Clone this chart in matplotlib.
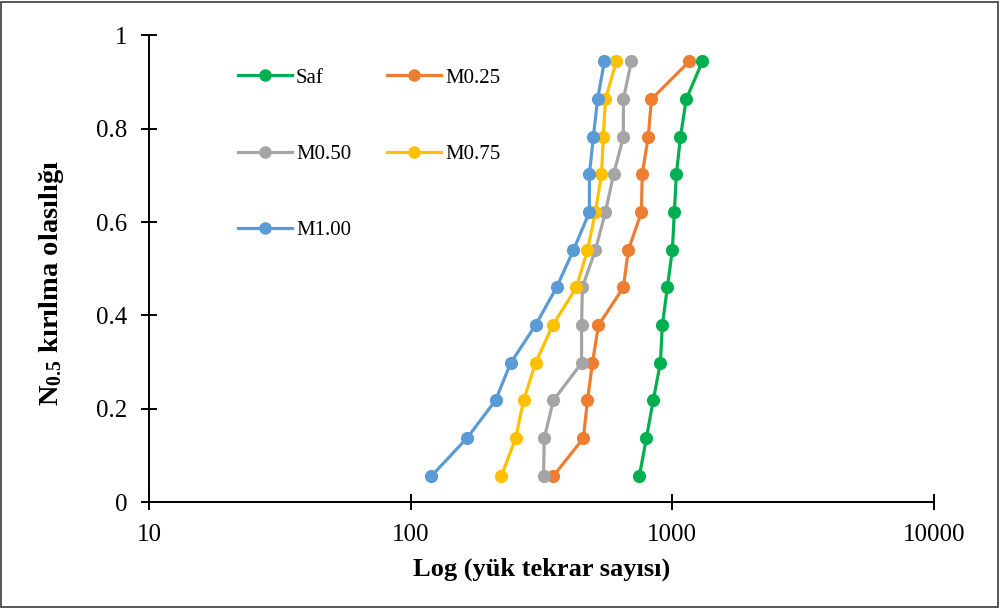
import matplotlib
matplotlib.use("Agg")
import matplotlib.pyplot as plt
from matplotlib.patches import Rectangle

plt.rcParams['font.family'] = ['Liberation Serif', 'DejaVu Serif']
plt.rcParams['mathtext.fontset'] = 'custom'
plt.rcParams['mathtext.rm'] = 'Liberation Serif'
plt.rcParams['mathtext.bf'] = 'Liberation Serif:bold'

# Failure probability (median ranks) shared by all series
probability = [0.056, 0.137, 0.218, 0.298, 0.379, 0.460,
               0.540, 0.621, 0.702, 0.782, 0.863, 0.944]

# Load repetition counts per mixture
saf = [748, 796, 845, 900, 916, 957, 1000, 1018, 1036, 1074, 1130, 1303]
m025 = [351, 457, 474, 495, 522, 650, 679, 762, 767, 809, 832, 1161]
m050 = [322, 324, 351, 450, 450, 453, 508, 555, 596, 650, 650, 697]
m075 = [222, 252, 270, 300, 349, 430, 474, 508, 536, 545, 555, 611]
m100 = [120, 164, 211, 241, 300, 361, 419, 482, 482, 499, 518, 550]

series_names = ["Saf", "M0.25", "M0.50", "M0.75", "M1.00"]
series_values = [saf, m025, m050, m075, m100]
colors = ["#00B050", "#ED7D31", "#A5A5A5", "#FFC000", "#5B9BD5"]

x_ticks = [10, 100, 1000, 10000]
x_tick_labels = ["10", "100", "1000", "10000"]
y_ticks = [0, 0.2, 0.4, 0.6, 0.8, 1]
y_tick_labels = ["0", "0.2", "0.4", "0.6", "0.8", "1"]

fig = plt.figure(figsize=(10, 6.08), dpi=100)
ax = fig.add_axes([0.149, 0.174, 0.785, 0.768])

handles = []
for name, vals, c in zip(series_names, series_values, colors):
    h, = ax.plot(vals, probability, color=c, lw=2.3, marker='o',
                 markersize=9.5, markeredgewidth=0, label=name)
    handles.append(h)

ax.set_xscale('log')
ax.set_xlim(10, 10000)
ax.set_ylim(0, 1)
ax.set_xticks(x_ticks)
ax.set_xticklabels(x_tick_labels)
ax.minorticks_off()
ax.set_yticks(y_ticks)
ax.set_yticklabels(y_tick_labels)

for s in ['top', 'right']:
    ax.spines[s].set_visible(False)
for s in ['left', 'bottom']:
    ax.spines[s].set_linewidth(1.4)
    ax.spines[s].set_color('black')

ax.tick_params(axis='both', direction='inout', length=11.5, width=1.4,
               labelsize=18, colors='black')
ax.tick_params(axis='y', pad=10)
ax.tick_params(axis='x', pad=10)

ax.set_xlabel("Log (yük tekrar sayısı)", fontsize=19, fontweight='bold')
ax.xaxis.set_label_coords(0.5, -0.118)
ax.set_ylabel(r"$\mathbf{N_{0.5}}$ kırılma olasılığı", fontsize=20.5,
              fontweight='bold')
ax.yaxis.set_label_coords(-0.106, 0.47)

order = [0, 2, 4, 1, 3]
leg = ax.legend([handles[i] for i in order], [series_names[i] for i in order],
                ncol=2, loc='upper left', bbox_to_anchor=(0.1024, 0.9475),
                frameon=False, fontsize=15, handlelength=2.6,
                labelspacing=2.72, columnspacing=1.7, handletextpad=0.2,
                borderaxespad=0)
for h in leg.legend_handles:
    h.set_markersize(9)

# outer chart-area border
fig.patches.append(Rectangle((0.001, 0.0015), 0.997, 0.996,
                             transform=fig.transFigure, fill=False,
                             edgecolor='#3a3a3a', linewidth=1.2))

fig.savefig("out.png", dpi=100)
